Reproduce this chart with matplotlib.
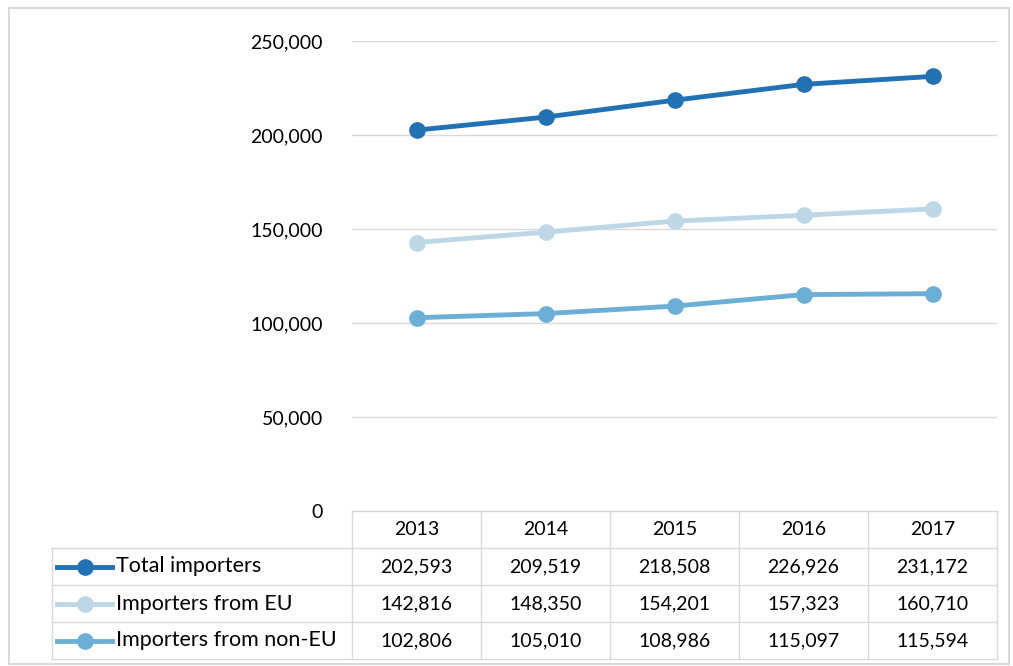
import matplotlib.pyplot as plt
from matplotlib.patches import Rectangle
from matplotlib.lines import Line2D

years = ['2013', '2014', '2015', '2016', '2017']
series_names = ['Total importers', 'Importers from EU', 'Importers from non-EU']
total = [202593, 209519, 218508, 226926, 231172]
from_eu = [142816, 148350, 154201, 157323, 160710]
from_non_eu = [102806, 105010, 108986, 115097, 115594]
colors = ['#2271B5', '#BDD7E7', '#6BAED6']
yticks = [0, 50000, 100000, 150000, 200000, 250000]

plt.rcParams['font.family'] = ['Lato', 'DejaVu Sans']

W, H = 1013, 666
fig = plt.figure(figsize=(W / 100, H / 100), dpi=100)

# outer frame
fig.patches.append(Rectangle((9 / W, 2 / H), 1000 / W, 656 / H, transform=fig.transFigure,
                             fill=False, edgecolor='#D9D9D9', linewidth=1.5))

# plot area
x0, x1 = 352, 997
ytop, ybot = 41, 511
ax = fig.add_axes([x0 / W, (H - ybot) / H, (x1 - x0) / W, (ybot - ytop) / H])
xs = list(range(len(years)))
for vals, c in zip([total, from_eu, from_non_eu], colors):
    ax.plot(xs, vals, color=c, linewidth=3.5, marker='o', markersize=11, zorder=3)
ax.set_xlim(-0.5, len(years) - 0.5)
ax.set_ylim(0, 250000)
ax.set_yticks(yticks)
ax.set_yticklabels(['{:,}'.format(v) for v in yticks], fontsize=14)
ax.yaxis.grid(True, color='#D9D9D9', linewidth=1)
ax.set_axisbelow(True)
ax.set_xticks([])
for s in ax.spines.values():
    s.set_visible(False)
ax.tick_params(axis='y', length=0, pad=21)

# data table
tab = fig.add_axes([0, 0, 1, 1], zorder=-1)
tab.set_xlim(0, W)
tab.set_ylim(H, 0)
tab.axis('off')
lc = '#D9D9D9'
left = 52
colw = (x1 - x0) / len(years)
rows_y = [511, 548, 585, 622, 659]
# horizontal lines
tab.plot([x0, x1], [rows_y[0]] * 2, color=lc, lw=1)
for y in rows_y[1:]:
    tab.plot([left, x1], [y, y], color=lc, lw=1)
# vertical lines
tab.plot([left, left], [rows_y[1], rows_y[-1]], color=lc, lw=1)
for i in range(len(years) + 1):
    xv = x0 + i * colw
    tab.plot([xv, xv], [rows_y[0], rows_y[-1]], color=lc, lw=1)

for i, yr in enumerate(years):
    tab.text(x0 + (i + 0.5) * colw, (rows_y[0] + rows_y[1]) / 2, yr,
             ha='center', va='center', fontsize=14)

for r, (name, vals, c) in enumerate(zip(series_names, [total, from_eu, from_non_eu], colors)):
    yc = (rows_y[r + 1] + rows_y[r + 2]) / 2
    tab.add_line(Line2D([57, 112], [yc, yc], color=c, linewidth=3.5))
    tab.plot([85], [yc], marker='o', markersize=11, color=c)
    tab.text(116, yc, name, ha='left', va='center', fontsize=15.5)
    for i, v in enumerate(vals):
        tab.text(x0 + (i + 0.5) * colw, yc, '{:,}'.format(v),
                 ha='center', va='center', fontsize=14)

fig.savefig('out.png', dpi=100)
